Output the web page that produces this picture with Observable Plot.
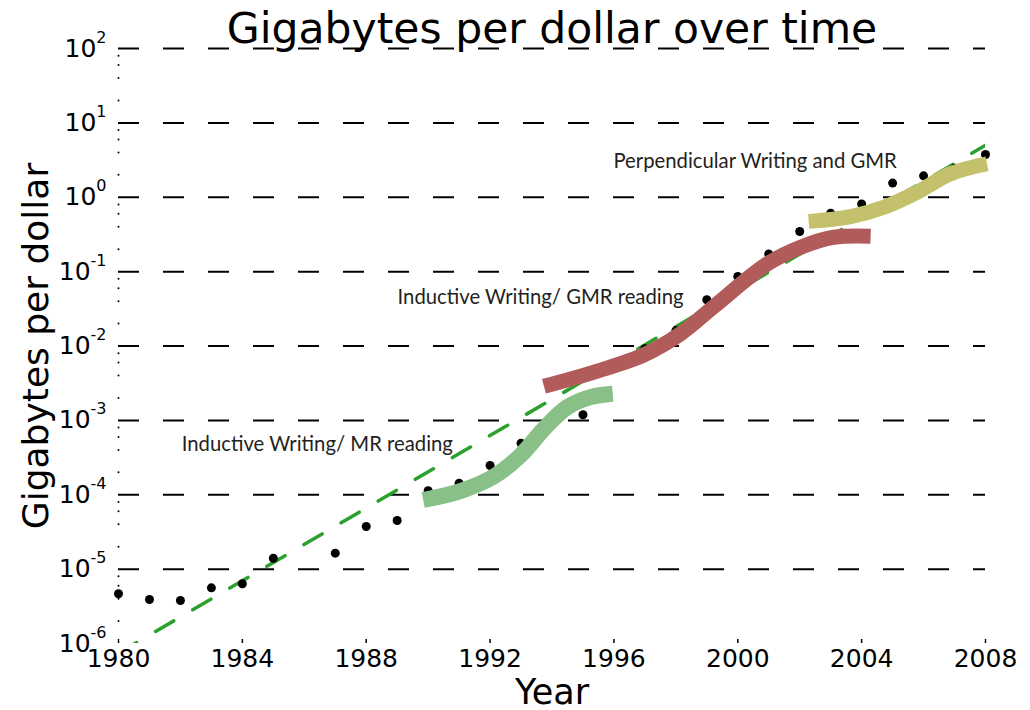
<!DOCTYPE html>
<html>
<head>
<meta charset="utf-8">
<script src="https://cdn.jsdelivr.net/npm/d3@7"></script>
<script src="https://cdn.jsdelivr.net/npm/@observablehq/plot@0.6"></script>
<style>
  html, body { margin: 0; padding: 0; background: #fff; }
  #chart { width: 1030px; height: 710px; }
</style>
</head>
<body>
<div id="chart"></div>
<script>
// ---- data ----
const years = [1980, 1981, 1982, 1983, 1984, 1985, 1987, 1988, 1989, 1990, 1991, 1992, 1993, 1995,
               1997, 1998, 1999, 2000, 2001, 2002, 2003, 2004, 2005, 2006, 2007, 2008];
const gbPerDollar = [4.66e-6, 3.91e-6, 3.79e-6, 5.6e-6, 6.35e-6, 1.4e-5, 1.64e-5, 3.74e-5, 4.5e-5,
                     1.13e-4, 1.43e-4, 2.47e-4, 4.93e-4, 1.19e-3,
                     9.2e-3, 0.0161, 0.0418, 0.0859, 0.173, 0.346, 0.611, 0.81, 1.55, 1.94, 2.46, 3.76];

const trendYears = [1980, 2008];
const trendValues = [7.4e-7, 5.0];

const mrYears  = [1989.84, 1991.04, 1992.12, 1992.98, 1993.74, 1994.49, 1995.24, 1995.96];
const mrValues = [8.5e-5, 1.12e-4, 1.76e-4, 3.37e-4, 7.7e-4, 1.5e-3, 2.05e-3, 2.28e-3];

const gmrYears  = [1993.74, 1995.46, 1996.97, 1998.15, 1999.23, 2000.95, 2002.03, 2003.10, 2004.29];
const gmrValues = [2.87e-3, 4.6e-3, 7.6e-3, 0.0146, 0.034, 0.127, 0.213, 0.29, 0.30];

const perpYears  = [2002.29, 2003.64, 2004.72, 2005.79, 2006.87, 2008.05];
const perpValues = [0.474, 0.55, 0.735, 1.17, 2.07, 2.82];

const annotLabels = ["Inductive Writing/ MR reading", "Inductive Writing/ GMR reading", "Perpendicular Writing and GMR"];
const annotYears  = [1986.42, 1993.63, 2000.56];
const annotValues = [4.75e-4, 0.0454, 3.06];

const xTicks = [1980, 1984, 1988, 1992, 1996, 2000, 2004, 2008];
const yDecades = [-6, -5, -4, -3, -2, -1, 0, 1, 2];
const gridDecades = [-5, -4, -3, -2, -1, 0, 1, 2];
const minorMultipliers = [2, 4, 6, 8];

const titleText = "Gigabytes per dollar over time";
const xLabel = "Year";
const yLabel = "Gigabytes per dollar";

// ---- derived tables ----
const points = years.map((y, i) => ({year: y, value: gbPerDollar[i]}));
const trend = trendYears.map((y, i) => ({year: y, value: trendValues[i]}));
const mr = mrYears.map((y, i) => ({year: y, value: mrValues[i]}));
const gmr = gmrYears.map((y, i) => ({year: y, value: gmrValues[i]}));
const perp = perpYears.map((y, i) => ({year: y, value: perpValues[i]}));
const annots = annotLabels.map((t, i) => ({text: t, year: annotYears[i], value: annotValues[i]}));
const minorTicks = [];
for (let d = -6; d < 2; d++) for (const m of minorMultipliers) minorTicks.push(m * 10 ** d);

const chart = Plot.plot({
  width: 1030,
  height: 710,
  marginTop: 48,
  marginBottom: 67,
  marginLeft: 118,
  marginRight: 45,
  style: {fontFamily: "'DejaVu Sans', sans-serif", background: "#fff", color: "#000", overflow: "visible"},
  x: {domain: [1980, 2008]},
  y: {type: "log", domain: [1e-6, 1e2], axis: null},
  marks: [
    Plot.ruleY(gridDecades.map(d => 10 ** d), {stroke: "#000", strokeWidth: 2, strokeDasharray: "21,24"}),
    Plot.dot(minorTicks, {y: d => d, frameAnchor: "left", r: 1, fill: "#000", stroke: "none"}),
    Plot.tickX(xTicks, {x: d => d, insetTop: 591, stroke: "#000", strokeWidth: 1.5}),
    Plot.axisX({ticks: xTicks, tickSize: 0, tickPadding: 6, fontSize: 25, tickFormat: d => String(d), label: null}),
    Plot.text(yDecades, {y: d => 10 ** d, frameAnchor: "left", dx: -12, textAnchor: "end", lineAnchor: "middle", fontSize: 25, text: d => `10^${d}`}),
    Plot.line(trend, {x: "year", y: "value", stroke: "#2ca02c", strokeWidth: 3.5, strokeDasharray: "21,22", clip: true}),
    Plot.dot(points, {x: "year", y: "value", r: 4.5, fill: "#000", stroke: "none"}),
    Plot.line(mr, {x: "year", y: "value", curve: "catmull-rom", stroke: "#88c088", strokeWidth: 16, strokeLinecap: "butt"}),
    Plot.line(gmr, {x: "year", y: "value", curve: "catmull-rom", stroke: "#b25b5b", strokeWidth: 15, strokeLinecap: "butt"}),
    Plot.line(perp, {x: "year", y: "value", curve: "catmull-rom", stroke: "#c4c16d", strokeWidth: 15, strokeLinecap: "butt"}),
    Plot.text(annots, {x: "year", y: "value", text: "text", fontFamily: "Lato, 'Open Sans', sans-serif", fontSize: 20.3, fill: "#231f20"}),
    Plot.text([titleText], {frameAnchor: "top", textAnchor: "middle", lineAnchor: "middle", dy: -19, fontSize: 42.5, text: d => d}),
    Plot.text([xLabel], {frameAnchor: "bottom", textAnchor: "middle", lineAnchor: "middle", dy: 49, fontSize: 35, text: d => d}),
    Plot.text([yLabel], {frameAnchor: "left", textAnchor: "middle", lineAnchor: "middle", dx: -82.5, rotate: -90, fontSize: 36, text: d => d})
  ]
});

document.getElementById("chart").appendChild(chart);

// superscript exponents on the y tick labels
chart.querySelectorAll("text").forEach(t => {
  const m = /^10\^(-?\d+)$/.exec(t.textContent);
  if (!m) return;
  t.textContent = "10";
  const ts = document.createElementNS("http://www.w3.org/2000/svg", "tspan");
  ts.setAttribute("dy", "-14");
  ts.setAttribute("font-size", "16");
  ts.textContent = m[1];
  t.appendChild(ts);
});
</script>
</body>
</html>
